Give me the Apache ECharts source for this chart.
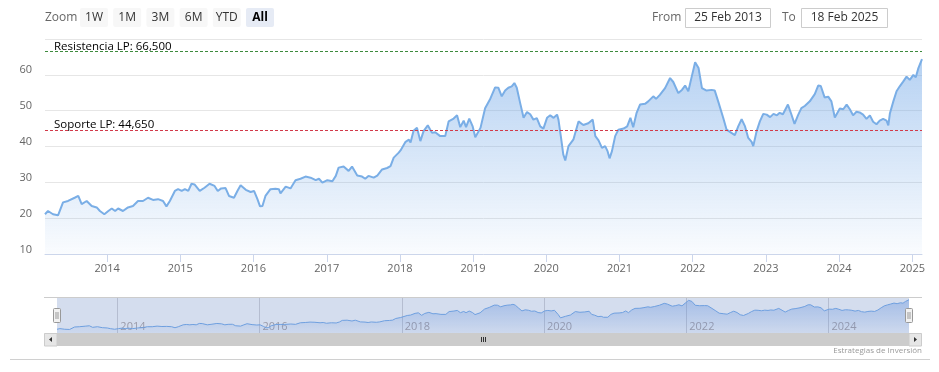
<!DOCTYPE html>
<html><head><meta charset="utf-8">
<script src="https://cdn.jsdelivr.net/npm/echarts@6/dist/echarts.min.js"></script>
<style>html,body{margin:0;padding:0;background:#fff}#c{width:939px;height:372px}</style>
</head><body><div id="c"></div>
<script>
const dates = ['2013-02-25','2013-03-12','2013-04-06','2013-05-01','2013-05-09','2013-05-26','2013-06-20','2013-07-23','2013-08-10','2013-08-27','2013-09-21','2013-10-16','2013-11-10','2013-11-26','2013-12-18',
'2014-01-07','2014-01-24','2014-02-10','2014-02-25','2014-03-21','2014-04-15','2014-05-10','2014-06-04','2014-06-29','2014-07-24','2014-08-18','2014-09-12','2014-10-07','2014-10-24','2014-11-10','2014-12-05','2014-12-21',
'2015-01-08','2015-01-24','2015-02-10','2015-02-26','2015-03-13','2015-04-08','2015-05-02','2015-05-27','2015-06-21','2015-07-07','2015-07-24','2015-08-15','2015-09-01','2015-09-26','2015-10-13','2015-10-29','2015-11-24','2015-12-18',
'2016-01-04','2016-01-21','2016-02-03','2016-02-15','2016-03-01','2016-03-26','2016-04-20','2016-05-07','2016-05-15','2016-06-10','2016-07-04','2016-07-29','2016-08-23','2016-09-17','2016-10-12','2016-11-07','2016-11-23','2016-12-10',
'2017-01-04','2017-01-29','2017-02-15','2017-03-01','2017-03-26','2017-04-20','2017-05-07','2017-06-02','2017-06-26','2017-07-12','2017-07-28','2017-08-23','2017-09-10','2017-10-04','2017-10-29','2017-11-15','2017-12-01','2017-12-26',
'2018-01-04','2018-01-29','2018-02-15','2018-02-23','2018-03-10','2018-03-27','2018-04-13','2018-04-29','2018-05-20','2018-06-10','2018-06-26','2018-07-21','2018-08-15','2018-09-01','2018-09-26','2018-10-13','2018-10-29','2018-11-15','2018-11-27','2018-12-13','2018-12-30',
'2019-01-12','2019-02-07','2019-03-02','2019-03-26','2019-04-21','2019-05-07','2019-05-24','2019-06-10','2019-06-26','2019-07-13','2019-07-26','2019-08-07','2019-08-24','2019-09-10','2019-09-27','2019-10-13','2019-10-29','2019-11-15','2019-12-02','2019-12-18',
'2020-01-05','2020-01-21','2020-02-07','2020-02-24','2020-03-02','2020-03-15','2020-03-26','2020-04-05','2020-04-21','2020-05-16','2020-06-10','2020-07-04','2020-07-29','2020-08-20','2020-09-02','2020-09-18','2020-10-05','2020-10-21','2020-11-02','2020-11-12','2020-11-24','2020-12-10','2020-12-26',
'2021-01-21','2021-02-08','2021-02-24','2021-03-10','2021-03-27','2021-04-13','2021-05-08','2021-05-24','2021-06-18','2021-07-02','2021-07-21','2021-08-16','2021-09-10','2021-09-26','2021-10-21','2021-11-08','2021-11-24','2021-12-10','2021-12-27',
'2022-01-13','2022-01-30','2022-02-16','2022-03-11','2022-04-05','2022-04-21','2022-05-08','2022-06-02','2022-06-19','2022-07-13','2022-07-30','2022-08-16','2022-09-02','2022-09-19','2022-10-05','2022-10-22','2022-10-30','2022-11-16','2022-12-02','2022-12-19',
'2023-01-05','2023-01-22','2023-02-08','2023-02-25','2023-03-11','2023-03-27','2023-04-21','2023-05-08','2023-05-24','2023-06-10','2023-06-27','2023-07-14','2023-08-08','2023-09-02','2023-09-19','2023-10-02','2023-10-21','2023-11-08','2023-11-24','2023-12-11',
'2024-01-05','2024-01-22','2024-02-08','2024-02-24','2024-03-11','2024-03-28','2024-04-13','2024-04-30','2024-05-17','2024-06-03','2024-06-19','2024-07-06','2024-07-22','2024-08-08','2024-08-25','2024-09-03','2024-09-11','2024-09-28','2024-10-14','2024-10-30','2024-11-16','2024-12-03','2024-12-19',
'2025-01-06','2025-01-18','2025-01-31','2025-02-18'];
const prices = [21.1,22.0,21.1,20.8,20.8,24.4,24.8,25.7,26.2,23.9,24.8,23.4,23.0,22.0,21.1,
22.0,22.7,22.0,22.7,22.0,23.0,23.4,24.8,24.8,25.7,25.1,25.3,24.8,23.3,24.8,27.6,28.1,
27.6,28.1,27.6,29.6,29.4,27.6,28.5,29.6,29.0,27.6,28.3,28.4,26.2,25.7,27.6,29.2,27.9,27.3,
27.6,25.3,23.3,23.4,26.2,28.1,28.2,28.1,26.9,28.8,28.3,30.6,31.0,31.6,31.3,30.6,31.0,29.9,
30.6,30.3,31.8,34.1,34.4,33.2,34.4,31.9,31.6,31.0,31.8,31.3,31.9,33.6,34.0,34.5,36.9,38.3,
38.9,41.3,41.9,41.1,44.4,45.2,41.5,44.3,45.9,43.8,44.0,42.9,42.9,47.0,47.8,48.7,45.4,47.2,45.4,47.8,45.6,
42.6,45.2,50.7,53.1,56.5,56.4,54.0,55.6,56.4,56.8,57.7,56.4,52.1,48.0,49.6,49.0,47.5,47.9,45.6,45.0,
48.0,48.7,48.0,48.9,47.5,42.4,37.8,36.1,40.1,42.0,47.0,46.0,46.5,47.5,42.9,41.7,39.6,40.1,38.7,36.7,38.7,42.9,44.7,
45.0,45.6,48.0,45.4,49.4,51.7,51.9,52.6,54.0,53.3,54.4,56.3,59.1,58.0,54.9,55.8,57.0,55.4,59.5,
63.5,61.9,56.3,55.6,55.8,55.6,52.6,48.0,44.7,43.8,43.2,45.6,47.6,45.6,42.4,41.3,40.1,44.3,47.0,49.1,
48.9,48.2,49.1,48.7,49.4,49.0,51.7,49.0,46.3,48.7,50.7,51.3,52.6,54.6,57.0,56.9,53.7,53.9,52.6,48.1,
50.6,50.4,51.7,50.4,48.7,49.7,49.5,48.9,47.7,48.7,46.9,46.2,47.2,47.7,47.2,45.9,49.3,52.6,55.4,56.8,58.1,59.5,58.6,
60.0,59.3,61.9,64.4];
const yearTicks = [2014,2015,2016,2017,2018,2019,2020,2021,2022,2023,2024,2025];
const navYears = [2014,2016,2018,2020,2022,2024];
const resistanceLevel = 66.5, resistanceLabel = 'Resistencia LP: 66,500';
const supportLevel = 44.65, supportLabel = 'Soporte LP: 44,650';
const rangeButtons = ['1W','1M','3M','6M','YTD','All'];
const fromText = '25 Feb 2013', toText = '18 Feb 2025';
const creditText = 'Estrategias de Inversión';
const startDate = '2013-02-25', endDate = '2025-02-18';

const FONT = '"Open Sans", sans-serif';
const seriesData = dates.map((d, i) => [Date.parse(d), prices[i]]);
const yearTs = yearTicks.map(y => Date.UTC(y, 0, 1));
const navTs = navYears.map(y => Date.UTC(y, 0, 1));
const tMin = Date.parse(startDate), tMax = Date.parse(endDate);
const yearFmt = v => String(new Date(v).getUTCFullYear());

const graphics = [];
graphics.push({type:'text', x:45, y:17.5, style:{text:'Zoom', fill:'#666', font:'12px '+FONT, verticalAlign:'middle'}});
rangeButtons.forEach((b, i) => {
  const x = 80 + i * 33.2, sel = b === 'All';
  graphics.push({type:'rect', shape:{x:x, y:8, width:28, height:19, r:2}, style:{fill: sel ? '#e6ebf5' : '#f7f7f7'}});
  graphics.push({type:'text', x:x+14, y:17.5, style:{text:b, fill: sel ? '#000' : '#333', font:(sel?'bold ':'')+'12px '+FONT, align:'center', verticalAlign:'middle'}});
});
graphics.push({type:'text', x:652, y:17.5, style:{text:'From', fill:'#666', font:'12px '+FONT, verticalAlign:'middle'}});
graphics.push({type:'rect', shape:{x:685.5, y:8.5, width:85, height:19}, style:{fill:'#fff', stroke:'#ccc', lineWidth:1}});
graphics.push({type:'text', x:728, y:18, style:{text:fromText, fill:'#333', font:'12px '+FONT, align:'center', verticalAlign:'middle'}});
graphics.push({type:'text', x:782, y:17.5, style:{text:'To', fill:'#666', font:'12px '+FONT, verticalAlign:'middle'}});
graphics.push({type:'rect', shape:{x:801.5, y:8.5, width:86, height:19}, style:{fill:'#fff', stroke:'#ccc', lineWidth:1}});
graphics.push({type:'text', x:844.5, y:18, style:{text:toText, fill:'#333', font:'12px '+FONT, align:'center', verticalAlign:'middle'}});
// navigator mask & outline
graphics.push({type:'rect', z:-1, shape:{x:57, y:297, width:852, height:36}, style:{fill:'rgba(102,133,194,0.28)'}});
graphics.push({type:'line', z:50, shape:{x1:44, y1:297.5, x2:922, y2:297.5}, style:{stroke:'#cccccc', lineWidth:1}});
// scrollbar
graphics.push({type:'rect', z:50, shape:{x:44, y:333, width:878, height:13}, style:{fill:'#f2f2f2'}});
graphics.push({type:'rect', z:51, shape:{x:57, y:333, width:852, height:13}, style:{fill:'#cccccc'}});
graphics.push({type:'rect', z:51, shape:{x:44.5, y:333.5, width:12.5, height:12.5}, style:{fill:'#e6e6e6', stroke:'#cccccc'}});
graphics.push({type:'rect', z:51, shape:{x:909, y:333.5, width:12.5, height:12.5}, style:{fill:'#e6e6e6', stroke:'#cccccc'}});
graphics.push({type:'polygon', z:52, shape:{points:[[49,339.5],[52,337],[52,342]]}, style:{fill:'#333'}});
graphics.push({type:'polygon', z:52, shape:{points:[[917,339.5],[914,337],[914,342]]}, style:{fill:'#333'}});
[481,483,485].forEach(x => graphics.push({type:'line', z:52, shape:{x1:x+0.5, y1:337, x2:x+0.5, y2:342}, style:{stroke:'#333', lineWidth:1}}));
// handles
[57, 909].forEach(cx => {
  graphics.push({type:'rect', z:60, shape:{x:cx-3.5, y:308.5, width:7, height:14, r:1}, style:{fill:'#f2f2f2', stroke:'#999', lineWidth:1}});
  graphics.push({type:'line', z:61, shape:{x1:cx-1, y1:312, x2:cx-1, y2:319}, style:{stroke:'#999', lineWidth:1}});
  graphics.push({type:'line', z:61, shape:{x1:cx+1, y1:312, x2:cx+1, y2:319}, style:{stroke:'#999', lineWidth:1}});
});
graphics.push({type:'line', shape:{x1:10, y1:359.5, x2:930, y2:359.5}, style:{stroke:'#d0d0d0', lineWidth:1}});
graphics.push({type:'text', x:922, y:351, style:{text:creditText, fill:'#999', font:'8px '+FONT, align:'right', verticalAlign:'middle'}});

const chart = echarts.init(document.getElementById('c'), null, {renderer:'canvas'});
chart.setOption({
  animation:false,
  textStyle:{fontFamily:FONT},
  grid:[{left:45, right:17, top:39, height:215}, {left:57, right:30, top:297, height:36}],
  xAxis:[{
    type:'value', gridIndex:0, min:tMin, max:tMax, scale:true,
    axisLine:{show:true, lineStyle:{color:'#ccd6eb'}},
    axisTick:{show:true, customValues:yearTs, length:8, lineStyle:{color:'#ccd6eb'}},
    axisLabel:{customValues:yearTs, formatter:yearFmt, color:'#666', fontSize:11, margin:9, fontFamily:FONT},
    splitLine:{show:false}
  },{
    type:'value', gridIndex:1, min:tMin, max:tMax, scale:true,
    axisLine:{show:false},
    axisTick:{show:false, customValues:navTs},
    axisLabel:{customValues:navTs, formatter:yearFmt, inside:true, color:'#9a9aa8', fontSize:11, margin:1, align:'left', padding:[0,0,0,3], fontFamily:FONT},
    splitLine:{show:true, lineStyle:{color:'rgba(110,115,140,0.3)', width:1}}
  }],
  yAxis:[{
    type:'value', gridIndex:0, min:10, max:70, interval:10,
    axisLine:{show:false}, axisTick:{show:false},
    axisLabel:{color:'#666', fontSize:11, showMaxLabel:false, margin:13, verticalAlign:'bottom', lineHeight:9, fontFamily:FONT},
    splitLine:{lineStyle:{color:'#e6e6e6'}}
  },{
    type:'value', gridIndex:1, min:15.6, max:68.4, show:false, splitLine:{show:false}
  }],
  series:[{
    type:'line', xAxisIndex:0, yAxisIndex:0, data:seriesData, showSymbol:false, symbol:'none',
    lineStyle:{color:'#7aaee6', width:2},
    areaStyle:{color:{type:'linear', x:0, y:0, x2:0, y2:1, colorStops:[{offset:0, color:'rgba(110,165,230,0.72)'},{offset:1, color:'rgba(110,165,230,0.05)'}]}},
    markLine:{
      silent:true, symbol:'none',
      data:[
        {yAxis:resistanceLevel, lineStyle:{color:'#3d8a3d', type:[3,2], width:1}, label:{formatter:resistanceLabel}},
        {yAxis:supportLevel, lineStyle:{color:'#d23a4a', type:[3,2], width:1}, label:{formatter:supportLabel}}
      ],
      label:{position:'insideStartTop', color:'#000', fontSize:11.5, fontFamily:FONT, distance:[9,-1]}
    }
  },{
    type:'line', xAxisIndex:1, yAxisIndex:1, data:seriesData, showSymbol:false, symbol:'none',
    lineStyle:{color:'#6e9fdf', width:1},
    areaStyle:{color:{type:'linear', x:0, y:0, x2:0, y2:1, colorStops:[{offset:0, color:'rgba(90,140,220,0.55)'},{offset:1, color:'rgba(90,140,220,0.08)'}]}}
  }],
  graphic:graphics
});
</script></body></html>
